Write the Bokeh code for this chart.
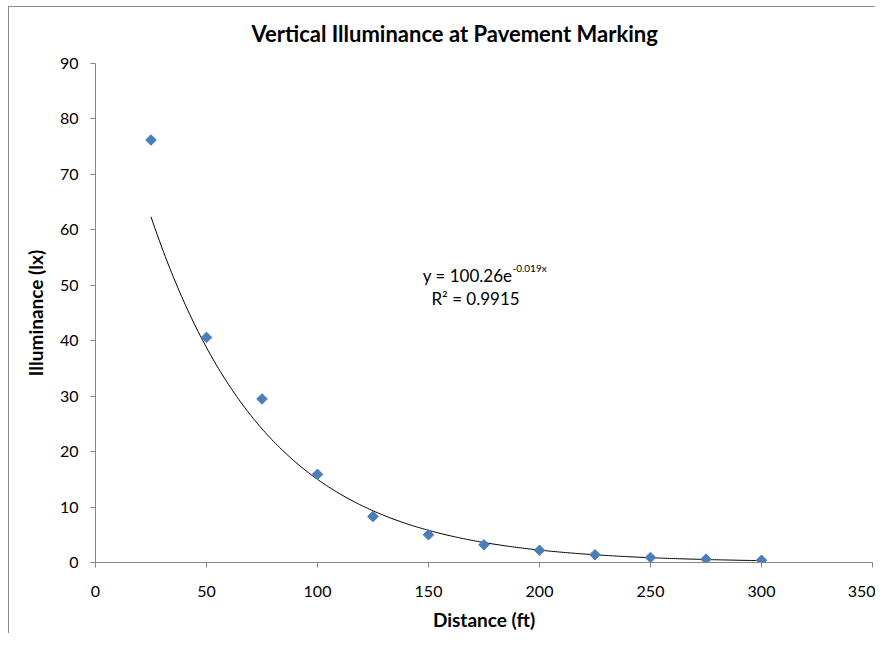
import numpy as np
from bokeh.plotting import figure
from bokeh.models import Range1d, Label, FixedTicker, Title
from bokeh.embed import file_html
from bokeh.resources import INLINE

distance = [25, 50, 75, 100, 125, 150, 175, 200, 225, 250, 275, 300]
illuminance = [76.2, 40.6, 29.5, 15.9, 8.3, 5.0, 3.2, 2.2, 1.4, 0.9, 0.6, 0.4]
x_ticks = [0, 50, 100, 150, 200, 250, 300, 350]
y_ticks = [0, 10, 20, 30, 40, 50, 60, 70, 80, 90]
fit_a = 100.26
fit_b = -0.019

FONT = "Lato"
AXIS_COLOR = "#868686"

p = figure(width=875, height=633, output_backend="svg", toolbar_location=None,
           x_range=Range1d(0, 350), y_range=Range1d(0, 90),
           min_border_left=95, min_border_right=3, min_border_top=63, min_border_bottom=71)
p.border_fill_color = None
p.background_fill_color = "white"
p.styles = {
    "background": ("linear-gradient(#8c8c8c,#8c8c8c) 8px 6px / 1px 100% no-repeat, "
                   "linear-gradient(#8c8c8c,#8c8c8c) 8px 6px / 100% 1px no-repeat, white"),
}
p.outline_line_color = None
p.xgrid.visible = False
p.ygrid.visible = False

p.title = Title(text="Vertical Illuminance at Pavement Marking", align="left",
                text_font=FONT, text_font_size="22px", text_font_style="bold",
                text_color="black", offset=156, standoff=33)

for ax, ticks in ((p.xaxis[0], x_ticks), (p.yaxis[0], y_ticks)):
    ax.ticker = FixedTicker(ticks=ticks)
    ax.axis_line_color = AXIS_COLOR
    ax.major_tick_line_color = AXIS_COLOR
    ax.major_tick_out = 5
    ax.major_tick_in = 0
    ax.minor_tick_line_color = None
    ax.major_label_text_font = FONT
    ax.major_label_text_font_size = "16px"
    ax.major_label_text_color = "black"
    ax.axis_label_text_font = FONT
    ax.axis_label_text_font_size = "19px"
    ax.axis_label_text_font_style = "bold"
    ax.axis_label_text_color = "black"

p.xaxis.axis_label = "Distance (ft)"
p.yaxis.axis_label = "Illuminance (lx)"
p.xaxis.major_label_standoff = 18
p.xaxis.axis_label_standoff = 8
p.yaxis.major_label_standoff = 12
p.yaxis.axis_label_standoff = 10

xs = np.linspace(distance[0], distance[-1], 300)
p.line(xs, fit_a * np.exp(fit_b * xs), line_color="black", line_width=1)

p.scatter(distance, illuminance, marker="square", angle=np.pi / 4, size=7.5,
          fill_color="#4a7ebb", line_color="#4a7ebb")

p.add_layout(Label(x=187.8, y=51.8, text="y = 100.26e", text_align="right",
                   text_baseline="middle", text_font=FONT, text_font_size="17px",
                   text_color="black"))
p.add_layout(Label(x=187.8, y=53.2, text="-0.019x", text_align="left",
                   text_baseline="middle", text_font=FONT, text_font_size="10px",
                   text_color="black"))
p.add_layout(Label(x=171.2, y=47.6, text="R² = 0.9915", text_align="center",
                   text_baseline="middle", text_font=FONT, text_font_size="17px",
                   text_color="black"))

open("out.html", "w").write(file_html(p, INLINE))
